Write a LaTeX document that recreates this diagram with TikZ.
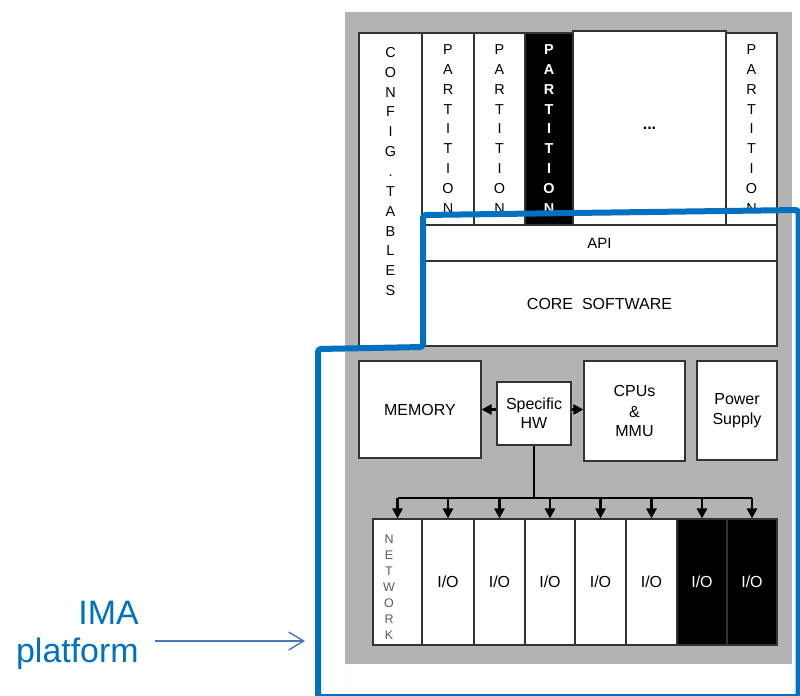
\documentclass[tikz,border=0pt]{standalone}
\usepackage{fontspec}
\setmainfont{Liberation Sans}
\usetikzlibrary{arrows.meta}
\definecolor{imablue}{RGB}{0,112,192}
\definecolor{ptrblue}{RGB}{70,118,190}
\definecolor{panel}{RGB}{179,179,179}

\begin{document}
\begin{tikzpicture}[
  box/.style={draw=black!80, line width=0.6pt, fill=white, inner sep=0pt},
  blackbox/.style={box, fill=black, text=white},
  letters/.style={align=center, font=\fontsize{8.2pt}{11.3pt}\selectfont},
  lbl/.style={align=center, font=\fontsize{9.1pt}{11pt}\selectfont},
  link/.style={line width=1.4pt, -{Triangle[length=0.2cm,width=0.2cm]}}
]
  \useasboundingbox (0,0) rectangle (16,13.9);
  \fill[panel] (6.9,0.62) rectangle (15.84,13.66);
  %
  \node[box, minimum width=1.26cm, minimum height=6.26cm] (config) at (7.81,10.11) {};
  \node[letters, inner sep=0pt, anchor=north] (configtxt) at (7.81,12.96)
    {C\\O\\N\\F\\I\\G\\.\\T\\A\\B\\L\\E\\S};
  \node[box, letters, minimum width=1.04cm, minimum height=3.84cm] (part1) at (8.96,11.32) {P\\A\\R\\T\\I\\T\\I\\O\\N};
  \node[box, letters, minimum width=1.02cm, minimum height=3.84cm] (part2) at (9.99,11.32) {P\\A\\R\\T\\I\\T\\I\\O\\N};
  \node[blackbox, letters, font=\fontsize{8.2pt}{11.3pt}\selectfont\bfseries,
    minimum width=0.96cm, minimum height=3.84cm] (part3) at (10.98,11.32) {P\\A\\R\\T\\I\\T\\I\\O\\N};
  \node[box, lbl, minimum width=3.06cm, minimum height=3.88cm] (dots) at (12.99,11.34) {\textbf{...}};
  \node[box, letters, minimum width=1.02cm, minimum height=3.84cm] (part4) at (15.03,11.32) {P\\A\\R\\T\\I\\T\\I\\O\\N};
  %
  \node[box, font=\fontsize{8.5pt}{10pt}\selectfont, minimum width=7.1cm, minimum height=0.72cm] (api) at (11.99,9.04) {API};
  \node[box, lbl, minimum width=7.1cm, minimum height=1.7cm] (core) at (11.99,7.83) {CORE\ \ SOFTWARE};
  %
  \node[box, lbl, minimum width=2.44cm, minimum height=1.94cm] (memory) at (8.4,5.71) {MEMORY};
  \node[box, lbl, minimum width=1.48cm, minimum height=1.26cm] (spechw) at (10.68,5.63) {Specific\\HW};
  \node[box, lbl, minimum width=2.02cm, minimum height=2cm] (cpu) at (12.69,5.68) {CPUs\\[1pt]\&\\MMU};
  \node[box, lbl, minimum width=1.6cm, minimum height=1.98cm] (power) at (14.74,5.69) {Power\\Supply};
  %
  \draw[link] (spechw.west |- memory.east) -- (memory.east);
  \draw[link] (spechw.east |- memory.east) -- (cpu.west |- memory.east);
  %
  \node[box, minimum width=0.98cm, minimum height=2.52cm] (net) at (7.95,2.26) {};
  \node[align=center, inner sep=0pt, anchor=north, text=black!65,
    font=\fontsize{7.1pt}{9.1pt}\selectfont] (nettxt) at (7.78,3.21) {N\\E\\T\\W\\O\\R\\K};
  \node[box, lbl, minimum width=1.04cm, minimum height=2.52cm] (io1) at (8.96,2.26) {I/O};
  \node[box, lbl, minimum width=1.02cm, minimum height=2.52cm] (io2) at (9.99,2.26) {I/O};
  \node[box, lbl, minimum width=1cm, minimum height=2.52cm] (io3) at (11,2.26) {I/O};
  \node[box, lbl, minimum width=1.02cm, minimum height=2.52cm] (io4) at (12.01,2.26) {I/O};
  \node[box, lbl, minimum width=1.02cm, minimum height=2.52cm] (io5) at (13.03,2.26) {I/O};
  \node[blackbox, lbl, minimum width=1cm, minimum height=2.52cm] (io6) at (14.04,2.26) {I/O};
  \node[blackbox, lbl, minimum width=1cm, minimum height=2.52cm] (io7) at (15.04,2.26) {I/O};
  %
  \coordinate (bus) at (10.68,3.94);
  \draw[line width=1.4pt] (spechw.south) -- (bus);
  \draw[line width=1.4pt] (net.north |- bus) -- (io7.north |- bus);
  \draw[link] (net.north |- bus) -- (net.north);
  \draw[link] (io1.north |- bus) -- (io1.north);
  \draw[link] (io2.north |- bus) -- (io2.north);
  \draw[link] (io3.north |- bus) -- (io3.north);
  \draw[link] (io4.north |- bus) -- (io4.north);
  \draw[link] (io5.north |- bus) -- (io5.north);
  \draw[link] (io6.north |- bus) -- (io6.north);
  \draw[link] (io7.north |- bus) -- (io7.north);
  %
  \draw[imablue, line width=0.12cm, rounded corners=0.06cm, line join=round]
    (6.36,-0.04) -- (6.36,6.92) -- (8.46,6.96) -- (8.46,9.6) -- (15.97,9.7) -- (15.97,-0.04) -- cycle;
  %
  \node[align=right, inner sep=0pt, anchor=east, text=imablue,
    font=\fontsize{19.3pt}{21.6pt}\selectfont] (ima) at (2.78,1.19) {IMA\\platform};
  \coordinate (imatip) at (6.1,1.08);
  \draw[ptrblue, line width=0.8pt, -{Straight Barb[length=0.3cm,width=0.36cm]}]
    (ima.east |- imatip) ++(0.32,0) -- (imatip);
\end{tikzpicture}
\end{document}
